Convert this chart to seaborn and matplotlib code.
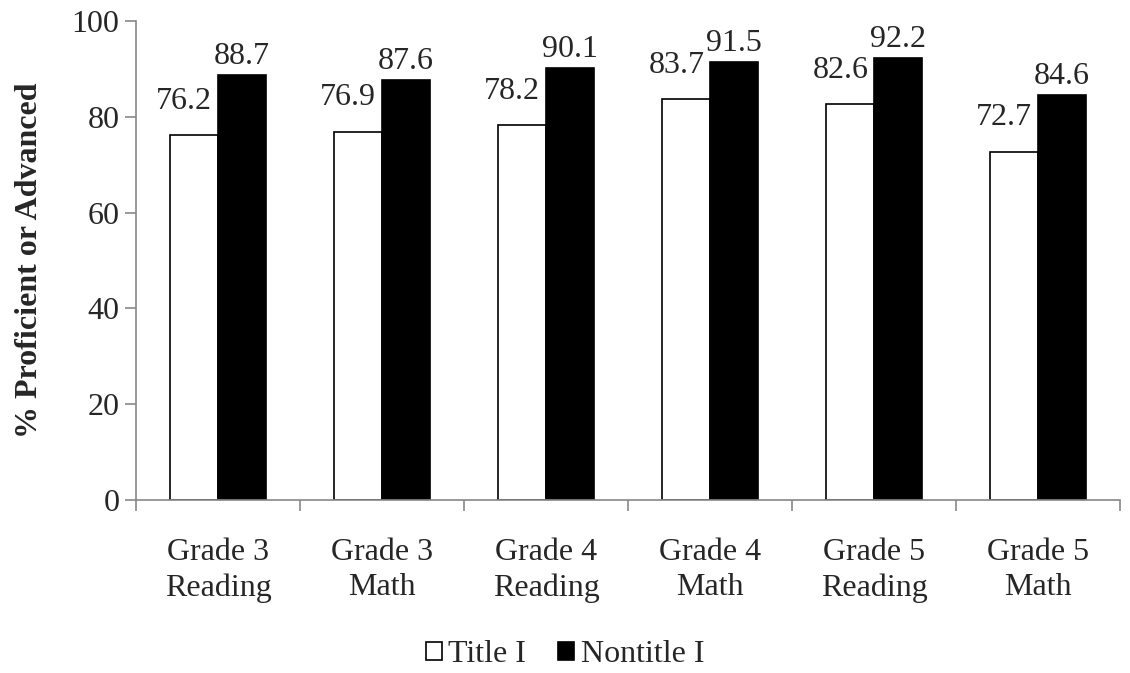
import matplotlib
matplotlib.use("Agg")
import matplotlib.pyplot as plt
import seaborn as sns
import pandas as pd
import numpy as np

categories = ["Grade 3\nReading", "Grade 3\nMath", "Grade 4\nReading", "Grade 4\nMath", "Grade 5\nReading", "Grade 5\nMath"]
series = ["Title I", "Nontitle I"]
title1 = [76.2, 76.9, 78.2, 83.7, 82.6, 72.7]
nontitle1 = [88.7, 87.6, 90.1, 91.5, 92.2, 84.6]
yticks = [0, 20, 40, 60, 80, 100]

df = pd.DataFrame({
    "Category": categories * 2,
    "Group": [series[0]] * len(categories) + [series[1]] * len(categories),
    "Value": title1 + nontitle1,
})

sns.set_style("white")
plt.rcParams["font.family"] = ["Liberation Serif", "DejaVu Serif"]

FS = 23
fig = plt.figure(figsize=(11.3, 6.73), dpi=100)
ax = fig.add_axes([136 / 1130, 1 - 500 / 673, 984 / 1130, 479 / 673])

sns.barplot(data=df, x="Category", y="Value", hue="Group", order=categories,
            hue_order=series, palette=["white", "black"], edgecolor="black",
            linewidth=1.2, width=0.585, gap=0, ax=ax, legend=True)

offsets = [(-7, 14), (0, 3)]
for cont, off in zip(ax.containers, offsets):
    anns = ax.bar_label(cont, fmt="%.1f", fontsize=FS, padding=off[1])
    for a in anns:
        a.xyann = (off[0], off[1])

ax.set_ylim(0, 100)
ax.set_xlim(-0.5, len(categories) - 0.5)
ax.set_yticks(yticks)
ax.tick_params(axis="y", labelsize=FS, length=8, width=1.2, color="#888888", direction="out", left=True, pad=4)
ax.tick_params(axis="x", which="major", labelsize=FS, length=0, pad=27)
ax.set_xticks(np.arange(-0.5, len(categories), 1.0), minor=True)
ax.tick_params(axis="x", which="minor", length=8, width=1.2, color="#888888", direction="out", bottom=True)
for lbl in ax.get_xticklabels():
    lbl.set_linespacing(1.3)
for s in ["top", "right"]:
    ax.spines[s].set_visible(False)
for s in ["left", "bottom"]:
    ax.spines[s].set_color("#888888")
    ax.spines[s].set_linewidth(1.2)
ax.set_xlabel("")
ax.set_ylabel("% Proficient or Advanced", fontsize=FS, fontweight="bold", labelpad=20)

handles, labels = ax.get_legend_handles_labels()
ax.get_legend().remove()
fig.legend(handles, labels, loc="center", bbox_to_anchor=(0.5, 1 - 655 / 673), ncol=2,
           frameon=False, fontsize=FS, handlelength=0.5, handleheight=0.5,
           handletextpad=0.2, columnspacing=1.0)

fig.savefig("out.png", dpi=100)
